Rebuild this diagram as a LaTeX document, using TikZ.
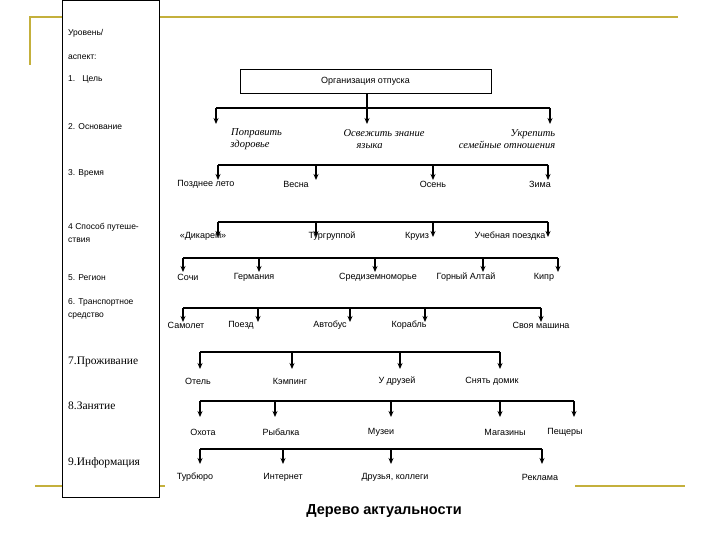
\documentclass[tikz,border=0pt]{standalone}
\usepackage{fontspec}
\setmainfont{Liberation Serif}
\setsansfont{Liberation Sans}
\usetikzlibrary{arrows.meta}
\begin{document}
\begin{tikzpicture}[x=1pt,y=-1pt,
  lbl/.style={font=\sffamily\fontsize{9}{10}\selectfont,inner sep=1pt},
  it/.style={font=\itshape\fontsize{10.5}{12}\selectfont,inner sep=1pt,align=center},
  lft/.style={font=\sffamily\fontsize{8.5}{13}\selectfont,anchor=west,inner sep=0pt,align=left},
  lfs/.style={font=\fontsize{11.5}{13}\selectfont,anchor=west,inner sep=0pt},
  bus/.style={line width=1.1pt},
  arr/.style={line width=1.1pt,-{Stealth[length=6pt,width=5pt]}},
  deco/.style={line width=1.6pt,color={rgb,255:red,196;green,176;blue,60}}]
\useasboundingbox (0,0) rectangle (720,540);
% decorative lines
\draw[deco] (30,65) -- (30,17) -- (678,17);
\draw[deco] (35,486) -- (165,486);
\draw[deco] (575,486) -- (685,486);
% left column
\node[draw,fill=white,line width=0.8pt,minimum width=97,minimum height=497,inner sep=0,anchor=north west] (col) at (62,0) {};
\node[lft] (l0) at (68,33) {Уровень/};
\node[lft] (l0b) at (68,57) {аспект:};
\node[lft] (l1) at (68,79) {1.\ \ \ Цель};
\node[lft] (l2) at (68,127) {2. Основание};
\node[lft] (l3) at (68,173) {3. Время};
\node[lft,align=left] (l4) at (68,232.5) {4 Способ путеше-\\ствия};
\node[lft] (l5) at (68,278) {5. Регион};
\node[lft] (l6) at (68,309) {6. Транспортное\\средство};
\node[lfs] (l7) at (68,362) {7.Проживание};
\node[lfs] (l8) at (68,406) {8.Занятие};
\node[lfs] (l9) at (68,463) {9.Информация};
% root
\node[draw,line width=0.8pt,minimum width=251,minimum height=24,inner sep=0,lbl] (root) at (365.5,81) {Организация отпуска};
% level 1
\coordinate (b1) at (367,108);
\draw[bus] (216,108) -- (550,108);
\draw[bus] (root.south -| b1) -- (b1);
\foreach \x in {216,367,550} \draw[arr] (\x,108) -- (\x,124);
\node[it] (a1) at (250,139) {\ \ \ \ \ Поправить\\здоровье};
\node[it] (a2) at (384,139) {Освежить знание\\языка\ \ \ \ \ \ \ \ \ \ \ \ };
\node[it,align=right] (a3) at (507,139) {Укрепить\\семейные отношения};
% level 2
\draw[bus] (218,165) -- (548,165);
\foreach \x in {218,316,433,548} \draw[arr] (\x,165) -- (\x,180);
\node[lbl] (t1) at (206,184) {Позднее лето};
\node[lbl] (t2) at (296,184) {Весна};
\node[lbl] (t3) at (433,184) {Осень};
\node[lbl] (t4) at (540,184) {Зима};
% level 3
\draw[bus] (218,222) -- (548,222);
\foreach \x in {218,316,433,548} \draw[arr] (\x,222) -- (\x,237);
\node[lbl] (s1) at (203,236) {«Дикарем»};
\node[lbl] (s2) at (332,236) {Тургруппой};
\node[lbl] (s3) at (417,236) {Круиз};
\node[lbl] (s4) at (510,236) {Учебная поездка};
% level 4
\draw[bus] (183,258) -- (558,258);
\foreach \x in {183,259,375,483,558} \draw[arr] (\x,258) -- (\x,272);
\node[lbl] (r1) at (188,277) {Сочи};
\node[lbl] (r2) at (254,277) {Германия};
\node[lbl] (r3) at (378,277) {Средиземноморье};
\node[lbl] (r4) at (466,277) {Горный Алтай};
\node[lbl] (r5) at (544,277) {Кипр};
% level 5
\draw[bus] (183,308) -- (541,308);
\foreach \x in {183,258,350,425,541} \draw[arr] (\x,308) -- (\x,322);
\node[lbl] (v1) at (186,325) {Самолет};
\node[lbl] (v2) at (241,325) {Поезд};
\node[lbl] (v3) at (330,325) {Автобус};
\node[lbl] (v4) at (409,325) {Корабль};
\node[lbl] (v5) at (541,325) {Своя машина};
% level 6
\draw[bus] (200,352) -- (500,352);
\foreach \x in {200,292,400,500} \draw[arr] (\x,352) -- (\x,369);
\node[lbl] (p1) at (198,381) {Отель};
\node[lbl] (p2) at (290,381) {Кэмпинг};
\node[lbl] (p3) at (397,381) {У друзей};
\node[lbl] (p4) at (492,381) {Снять домик};
% level 7
\draw[bus] (200,401) -- (574,401);
\foreach \x in {200,275,391,500,574} \draw[arr] (\x,401) -- (\x,417);
\node[lbl] (z1) at (203,432) {Охота};
\node[lbl] (z2) at (281,432) {Рыбалка};
\node[lbl] (z3) at (381,432) {Музеи};
\node[lbl] (z4) at (505,432) {Магазины};
\node[lbl] (z5) at (565,432) {Пещеры};
% level 8
\draw[bus] (200,449) -- (542,449);
\foreach \x in {200,283,391,542} \draw[arr] (\x,449) -- (\x,464);
\node[lbl] (i1) at (195,477) {Турбюро};
\node[lbl] (i2) at (283,477) {Интернет};
\node[lbl] (i3) at (395,477) {Друзья, коллеги};
\node[lbl] (i4) at (540,477) {Реклама};
% title
\node[font=\sffamily\bfseries\fontsize{14.5}{16}\selectfont] (title) at (384,511) {Дерево актуальности};
\end{tikzpicture}
\end{document}
